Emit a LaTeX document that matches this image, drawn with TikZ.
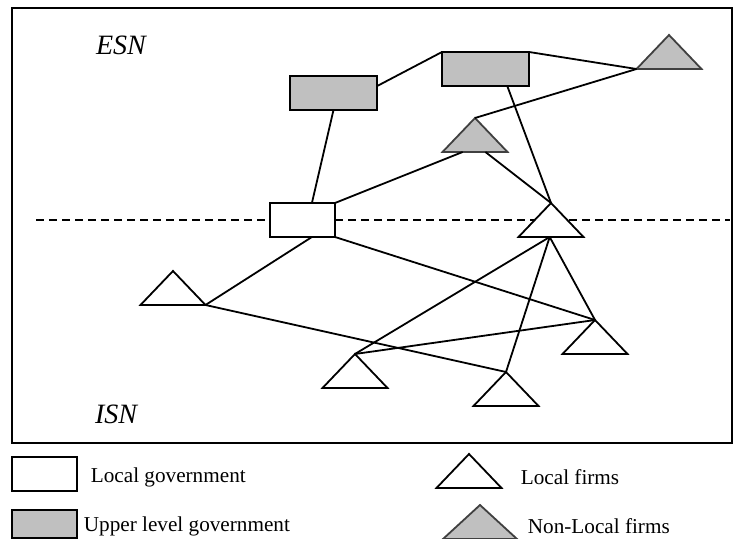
\documentclass[tikz,border=0pt]{standalone}
\usepackage{fontspec}
\setmainfont{Liberation Serif}
\usetikzlibrary{shapes.geometric,calc}
\definecolor{govgray}{HTML}{C0C0C0}
\definecolor{edgegray}{HTML}{404040}

\begin{document}
\begin{tikzpicture}[x=0.5pt,y=-0.5pt,line width=0.9pt,
		gov/.style={draw,rectangle,fill=white,inner sep=0pt,outer sep=0pt,
			minimum width=32.5pt,minimum height=17pt,anchor=north west},
		uppergov/.style={gov,fill=govgray,minimum width=43.5pt},
		firm/.style={draw,isosceles triangle,isosceles triangle stretches,
			rotate=90,fill=white,inner sep=0pt,outer sep=0pt,
			minimum width=32.5pt,minimum height=17pt,anchor=apex},
		nlfirm/.style={firm,fill=govgray,draw=edgegray},
		keytext/.style={anchor=west,inner sep=0pt,font=\fontsize{10.6}{12}\selectfont},
		nettext/.style={font=\fontsize{14}{16}\selectfont\itshape}]
		\useasboundingbox (0,0) rectangle (734,539);
		
		\draw (12,8) rectangle (732,443); % frame
		\draw[dash pattern=on 4pt off 2.5pt] (36,220) -- (730,220); % ESN / ISN border
		\node[nettext] (esn) at (121,45) {ESN};
		\node[nettext] (isn) at (116,414) {ISN};
		
		% governments
		\node[uppergov] (ugone) at (290,76) {};
		\node[uppergov] (ugtwo) at (442,52) {};
		\node[gov] (lg) at (270,203) {};
		
		% firms, placed by their apex
		\node[nlfirm] (nlone) at (669,35) {};
		\node[nlfirm] (nltwo) at (475,118) {};
		\node[firm] (lfone) at (551,203) {};
		\node[firm] (lftwo) at (173,271) {};
		\node[firm] (lfthree) at (595,320) {};
		\node[firm] (lffour) at (355,354) {};
		\node[firm] (lffive) at (506,372) {};
		
		\coordinate (nlbaseA) at ($(nltwo.left corner)!.31!(nltwo.right corner)$);
		\coordinate (nlbaseB) at ($(nltwo.left corner)!.66!(nltwo.right corner)$);
		\coordinate (lfbase) at ($(lfone.left corner)!.48!(lfone.right corner)$);
		
		\draw (ugone.9) -- (ugtwo.north west);
		\draw (ugtwo.north east) -- (nlone.left corner);
		\draw (ugtwo.-38) -- (lfone.apex);
		\draw (nltwo.apex) -- (nlone.left corner);
		\draw (nlbaseA) -- (lg.north east);
		\draw (nlbaseB) -- (lfone.apex);
		\draw (ugone.south) -- (lg.61);
		\draw (lg.-61) -- (lftwo.right corner);
		\draw (lg.south east) -- (lfthree.apex);
		\draw (lftwo.right corner) -- (lffive.apex);
		\foreach \f in {lffour,lffive,lfthree}{% links of the firm on the border
			\draw (lfbase) -- (\f.apex);
		}
		\draw (lffour.apex) -- (lfthree.apex);
		
		% key
		\node[gov] (keylg) at (12,457) {};
		\node[uppergov,minimum width=32.5pt,minimum height=14pt] (keyug) at (12,510) {};
		\node[firm] (keylf) at (469,454) {};
		\node[nlfirm,minimum width=37pt] (keynl) at (480,505) {};
		\node[keytext] (keylgtext) at (90,477) {Local government};
		\node[keytext] (keyugtext) at (83,526) {Upper level government};
		\node[keytext] (keylftext) at (520,477) {Local firms};
		\node[keytext] (keynltext) at (527,526) {Non-Local firms};
	\end{tikzpicture}
\end{document}
